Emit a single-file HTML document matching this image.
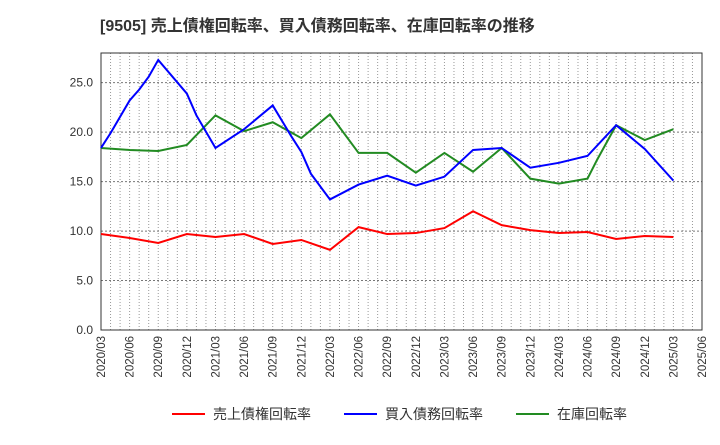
<!DOCTYPE html>
<html><head><meta charset="utf-8"><style>
body{margin:0;background:#fff;font-family:"Liberation Sans","Noto Sans CJK JP",sans-serif}
</style></head><body>
<svg id="c" width="720" height="440" xmlns="http://www.w3.org/2000/svg" font-family="'Liberation Sans','Noto Sans CJK JP',sans-serif">
<text x="100" y="31" font-size="16" font-weight="bold" fill="#333">[9505]  売上債権回転率、買入債務回転率、在庫回転率の推移</text>
<g id="grid"></g><g id="axes"></g><g id="lines"></g>
<g font-size="14" fill="#333">
<line x1="172" y1="414" x2="205" y2="414" stroke="#f00" stroke-width="2"/><text x="213" y="419">売上債権回転率</text>
<line x1="344" y1="414" x2="377" y2="414" stroke="#00f" stroke-width="2"/><text x="385" y="419">買入債務回転率</text>
<line x1="516" y1="414" x2="549" y2="414" stroke="#228b22" stroke-width="2"/><text x="557" y="419">在庫回転率</text>
</g>
</svg>
<script>
const tickLabels=["2020/03","2020/06","2020/09","2020/12","2021/03","2021/06","2021/09","2021/12","2022/03","2022/06","2022/09","2022/12","2023/03","2023/06","2023/09","2023/12","2024/03","2024/06","2024/09","2024/12","2025/03","2025/06"];
const yTicks=[0,5,10,15,20,25];
const redMonths=[0,3,6,9,12,15,18,21,24,27,30,33,36,39,42,45,48,51,54,57,60];
const redValues=[9.7,9.3,8.8,9.7,9.4,9.7,8.7,9.1,8.1,10.4,9.7,9.8,10.3,12.0,10.6,10.1,9.8,9.9,9.2,9.5,9.4];
const blueMonths=[0,1,3,4,5,6,9,10,12,15,18,20,21,22,24,27,30,33,36,39,42,45,48,51,54,57,60];
const blueValues=[18.4,19.9,23.2,24.3,25.6,27.3,23.9,21.7,18.4,20.3,22.7,19.5,18.0,15.8,13.2,14.7,15.6,14.6,15.5,18.2,18.4,16.4,16.9,17.6,20.7,18.3,15.1];
const greenMonths=[0,3,6,9,12,15,18,21,24,27,30,33,36,39,42,45,48,51,52,54,57,60];
const greenValues=[18.4,18.2,18.1,18.7,21.7,20.1,21.0,19.4,21.8,17.9,17.9,15.9,17.9,16.0,18.4,15.3,14.8,15.3,17.2,20.7,19.2,20.3];
const L=101,R=702,T=53,B=330,YMAX=28,NM=63;
const x=m=>L+(R-L)*m/NM, y=v=>B-(B-T)*v/YMAX;
const NS="http://www.w3.org/2000/svg";
function mk(p,t,a){const e=document.createElementNS(NS,t);for(const k in a)e.setAttribute(k,a[k]);p.appendChild(e);return e;}
const g=document.getElementById('grid'),ax=document.getElementById('axes'),ln=document.getElementById('lines');
for(let m=1;m<NM;m++){const e=mk(g,'line',{x1:x(m),x2:x(m),y1:T,y2:B,stroke:'#999','stroke-dasharray':'1,2','stroke-width':1});

}
yTicks.forEach(v=>{if(v>0){const e=mk(g,'line',{x1:L,x2:R,y1:y(v),y2:y(v),stroke:'#777','stroke-dasharray':'2,2'});

}
const t=mk(ax,'text',{x:L-8,y:y(v)+4,'text-anchor':'end','font-size':12,fill:'#333'});t.textContent=v.toFixed(1);

});
tickLabels.forEach((s,i)=>{const px=x(i*3);const t=mk(ax,'text',{x:0,y:0,'text-anchor':'end','font-size':11.5,fill:'#333',transform:`translate(${px+4},${B+6}) rotate(-90)`});t.textContent=s;

});
const fr=mk(ax,'rect',{x:L,y:T,width:R-L,height:B-T,fill:'none',stroke:'#333'});


function series(ms,vs,c,n){const p=mk(ln,'polyline',{points:ms.map((m,i)=>x(m)+','+y(vs[i])).join(' '),fill:'none',stroke:c,'stroke-width':2});

}
series(greenMonths,greenValues,'#228b22','inventory-turnover-line');
series(blueMonths,blueValues,'#0000ff','payables-turnover-line');
series(redMonths,redValues,'#ff0000','receivables-turnover-line');
</script>
</body></html>
